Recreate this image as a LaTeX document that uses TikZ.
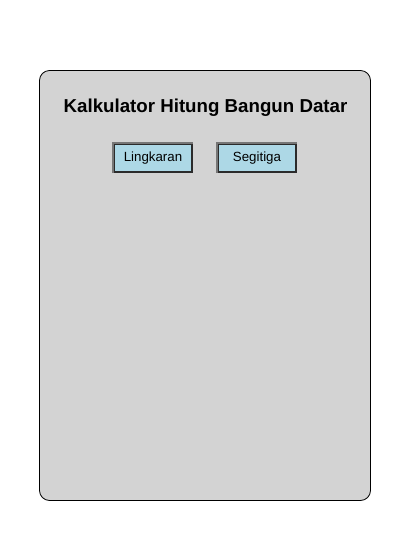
\documentclass[tikz,border=0pt]{standalone}
\usepackage{fontspec}
\setmainfont{Liberation Sans}
\usetikzlibrary{positioning,calc}
\definecolor{panelgray}{HTML}{D3D3D3}
\definecolor{btnblue}{HTML}{ADD8E6}
\definecolor{btnlight}{HTML}{767676}
\definecolor{btndark}{HTML}{2B2B2B}

\begin{document}
\begin{tikzpicture}[x=1pt, y=-1pt,
    panel/.style={rectangle, rounded corners=10pt, draw=black, fill=panelgray, line width=0.8pt},
    titlenode/.style={font=\fontsize{18.7pt}{22pt}\selectfont\bfseries},
    button/.style={rectangle, fill=btnblue, draw=btndark, line width=2pt, minimum width=78pt, minimum height=28pt, inner sep=0pt, font=\fontsize{13.3pt}{15pt}\selectfont},
    ]
    \useasboundingbox (0,0) rectangle (408,552);

    %Nodes
    \draw[panel] (39.5,70.5) rectangle (370.5,500.5);
    \node[titlenode] (title) at (205.5,108) {Kalkulator Hitung Bangun Datar};
    \node[button] (lingkaran) at (153,158) {Lingkaran};
    \node[button] (segitiga) [right=24pt of lingkaran] {Segitiga};

    % Light top and left edges
    \foreach \b in {lingkaran,segitiga}
        \draw[btnlight, line width=2pt] (\b.south west) -- (\b.north west) -- (\b.north east);
\end{tikzpicture}
\end{document}
